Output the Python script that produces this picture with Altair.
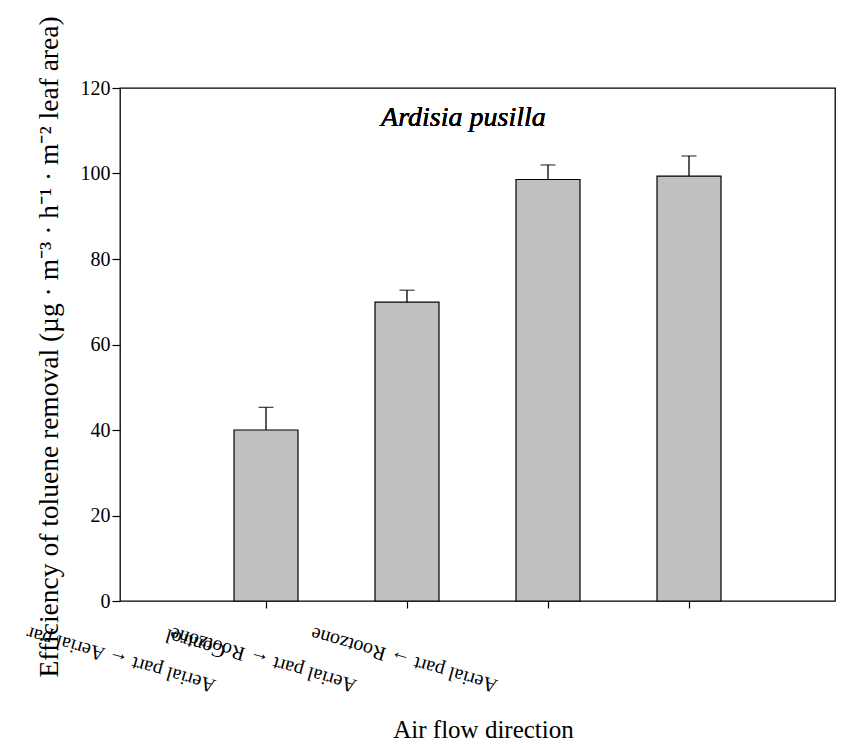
import json
import altair as alt
import pandas as pd

# ---- data ----
positions = [1, 2, 3, 4]
values = [40.0, 69.9, 98.6, 99.4]
errors = [5.3, 2.8, 3.4, 4.7]
tick_labels = [
    ["Aerial part ← Aerial par", "Control"],
    ["Aerial part ← Rootzone"],
    ["Aerial part → Rootzone"],
    [""],
]
y_ticks = [0, 20, 40, 60, 80, 100, 120]
species = "Ardisia pusilla"
x_title = "Air flow direction"
y_title = "Efficiency of toluene removal (µg · m⁻³ · h⁻¹ · m⁻² leaf area)"

FONT = "Liberation Serif"

df = pd.DataFrame({"pos": positions, "value": values, "err": errors})
df["upper"] = df["value"] + df["err"]

label_expr = ""
for p, lab in zip(positions, tick_labels):
    label_expr += f"datum.value == {p} ? {json.dumps(lab, ensure_ascii=False)} : "
label_expr += "''"

x_enc = alt.X(
    "pos:Q",
    scale=alt.Scale(domain=[0, 5], nice=False, zero=False),
    axis=alt.Axis(
        values=positions,
        labelExpr=label_expr,
        labelAngle=196,
        labelAlign="left",
        labelBaseline="alphabetic",
        labelOffset=-50,
        labelPadding=72,
        labelLineHeight=36,
        labelLimit=1000,
        labelFont=FONT,
        labelFontSize=20,
        labelColor="black",
        labelOverlap=False,
        labelFlush=False,
        labelBound=False,
        tickSize=7,
        tickColor="black",
        tickWidth=1.2,
        domain=False,
        grid=False,
        title=x_title,
        titleFont=FONT,
        titleFontSize=25,
        titleFontWeight="normal",
        titleColor="black",
        titleAnchor="middle",
        titleAlign="center",
        titleBaseline="alphabetic",
        titleX=363,
        titleY=136,
    ),
)

y_enc = alt.Y(
    "value:Q",
    scale=alt.Scale(domain=[0, 120], nice=False),
    axis=alt.Axis(
        values=y_ticks,
        format="d",
        labelFont=FONT,
        labelFontSize=20,
        labelColor="black",
        labelPadding=2,
        tickSize=8,
        tickColor="black",
        tickWidth=1.2,
        domain=False,
        grid=False,
        title=y_title,
        titleFont=FONT,
        titleFontSize=27.5,
        titleFontWeight="normal",
        titleColor="black",
        titleAngle=270,
        titleAlign="left",
        titleBaseline="alphabetic",
        titleX=-63,
        titleY=589,
        titleLimit=1000,
    ),
)

base = alt.Chart(df)

bars = base.mark_bar(size=64, color="#c0c0c0", stroke="black", strokeWidth=1.2).encode(
    x=x_enc, y=y_enc
)
whisker = base.mark_rule(color="black", strokeWidth=1.3).encode(
    x="pos:Q", y="value:Q", y2="upper:Q"
)
cap = base.mark_tick(orient="horizontal", size=15, thickness=1.3, color="black").encode(
    x="pos:Q", y="upper:Q"
)
label = base.mark_text(
    font=FONT, fontStyle="italic", fontSize=28, align="center", baseline="alphabetic", color="black"
).encode(x=alt.datum(2.4), y=alt.datum(111), text=alt.value(species))

chart = (
    alt.layer(bars, whisker, cap, label)
    .properties(
        width=715,
        height=513,
        autosize=alt.AutoSizeParams(type="none"),
        padding={"left": 120, "top": 88, "right": 22, "bottom": 143},
        background="white",
    )
    .configure_view(stroke="black", strokeWidth=1.3)
)

chart.save("out.html", embed_options={"renderer": "svg", "actions": False})
